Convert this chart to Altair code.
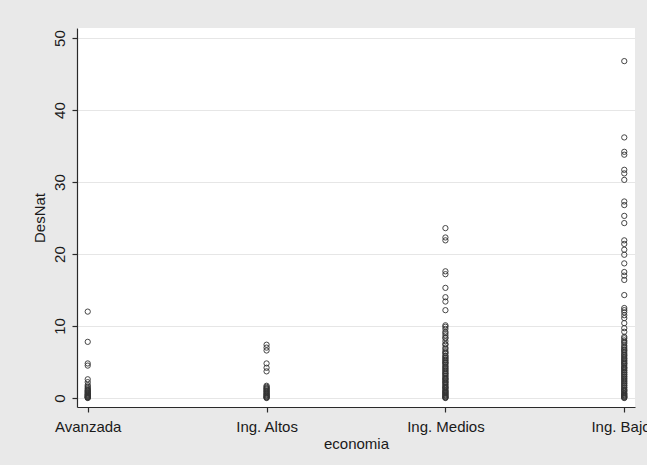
import altair as alt
import pandas as pd

# Economy groups, in axis order
categories = ["Avanzada", "Ing. Altos", "Ing. Medios", "Ing. Bajos"]

# DesNat observations per group
avanzada = [12.0, 7.8, 4.8, 4.5, 2.6, 2.2, 1.8, 1.6, 1.4, 1.25, 1.1, 1.0,
            0.9, 0.8, 0.7, 0.6, 0.5, 0.45, 0.35, 0.3, 0.2, 0.15, 0.1, 0.05, 0.0]
altos = [7.4, 7.0, 6.6, 4.8, 4.2, 3.7, 1.7, 1.55, 1.4, 1.3, 1.2, 1.05, 0.95,
         0.85, 0.7, 0.6, 0.5, 0.4, 0.3, 0.2, 0.12, 0.05, 0.0]
medios = [23.6, 22.3, 21.9, 17.6, 17.2, 15.3, 14.0, 13.4, 12.2, 10.1, 9.9,
          9.6, 9.2, 9.0, 8.7, 8.4, 8.3, 7.9, 7.5, 7.4, 7.0, 6.8, 6.5, 6.3,
          6.2, 5.9, 5.8, 5.6, 5.5, 5.3, 5.2, 5.0, 4.9, 4.8, 4.6, 4.4, 4.3,
          4.1, 4.0, 3.8, 3.7, 3.5, 3.4, 3.3, 3.1, 3.0, 2.8, 2.7, 2.6, 2.5,
          2.3, 2.2, 2.1, 1.9, 1.8, 1.6, 1.5, 1.4, 1.3, 1.1, 1.0, 0.9, 0.8,
          0.7, 0.6, 0.5, 0.4, 0.3, 0.2, 0.1, 0.05, 0.0]
bajos = [46.8, 36.2, 34.2, 33.8, 31.7, 31.2, 30.3, 27.3, 26.8, 25.3, 24.3,
         21.9, 21.4, 20.6, 19.9, 18.7, 17.5, 17.0, 16.4, 14.3, 12.5, 12.2,
         11.9, 11.5, 11.1, 10.4, 9.7, 9.2, 8.5, 8.3, 8.0, 7.8, 7.6, 7.3,
         7.1, 6.9, 6.7, 6.6, 6.4, 6.2, 6.0, 5.9, 5.7, 5.5, 5.4, 5.2, 5.1,
         4.9, 4.8, 4.7, 4.5, 4.3, 4.2, 4.1, 3.9, 3.8, 3.6, 3.5, 3.3, 3.2,
         3.0, 2.9, 2.7, 2.6, 2.4, 2.3, 2.1, 2.0, 1.8, 1.7, 1.5, 1.4, 1.2,
         1.1, 1.0, 0.9, 0.7, 0.6, 0.5, 0.4, 0.3, 0.2, 0.15, 0.05, 0.0]

# Y-axis tick values
y_ticks = [0, 10, 20, 30, 40, 50]

frames = []
for cat, vals in zip(categories, [avanzada, altos, medios, bajos]):
    frames.append(pd.DataFrame({"economia": cat, "DesNat": vals}))
df = pd.concat(frames, ignore_index=True)

font = "Liberation Sans"

chart = (
    alt.Chart(df)
    .mark_point(shape="circle", filled=False, size=28, strokeWidth=1.0,
                color="#333333", opacity=0.9)
    .encode(
        x=alt.X(
            "economia:N",
            sort=categories,
            scale=alt.Scale(type="point", padding=0.06),
            axis=alt.Axis(
                title="economia",
                labelAngle=0,
                labelOverlap=False,
                labelPadding=7,
                tickSize=5,
                grid=False,
                titlePadding=2,
            ),
        ),
        y=alt.Y(
            "DesNat:Q",
            scale=alt.Scale(domain=[-1.25, 51.4], nice=False, zero=False),
            axis=alt.Axis(
                title="DesNat",
                values=y_ticks,
                labelAngle=270,
                labelAlign="center",
                labelBaseline="bottom",
                labelPadding=5,
                tickSize=5,
                grid=True,
                gridColor="#e6e6e6",
                gridWidth=1,
                titlePadding=5,
            ),
        ),
    )
    .properties(
        width=558,
        height=379,
        background="#e9e9e9",
        autosize="none",
        padding={"left": 77, "top": 28, "right": 12, "bottom": 58},
    )
    .configure_view(fill="white", strokeWidth=0)
    .configure_axis(
        labelFont=font,
        titleFont=font,
        labelFontSize=15,
        titleFontSize=15,
        titleFontWeight="normal",
        labelColor="#1a1a1a",
        titleColor="#1a1a1a",
        domainColor="#2a2a2a",
        tickColor="#2a2a2a",
        domainWidth=1.2,
        tickWidth=1.2,
    )
)

chart.save("out.html", embed_options={"renderer": "svg", "actions": False})
